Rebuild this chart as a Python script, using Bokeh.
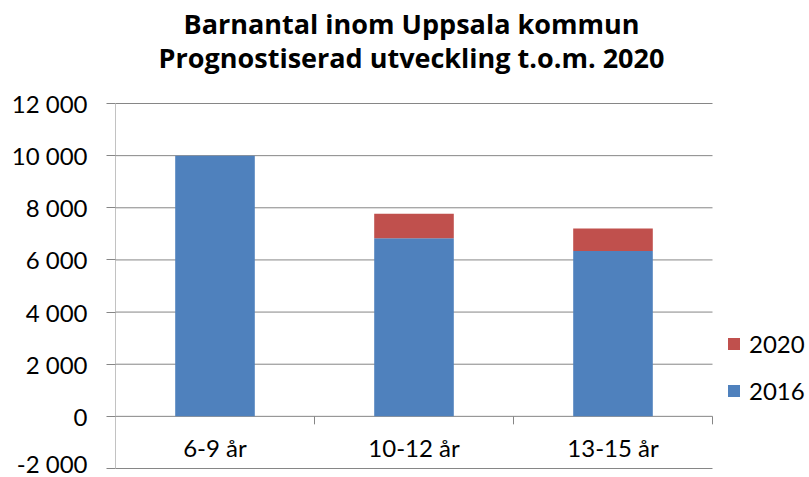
import math
from bokeh.plotting import figure
from bokeh.models import (ColumnDataSource, Range1d, FixedTicker, Legend, LegendItem, Label, LabelSet)
from bokeh.core.properties import value
from bokeh.embed import file_html
from bokeh.resources import INLINE

# ---- data ----
categories = ["6-9 år", "10-12 år", "13-15 år"]
values_2016 = [10000, 6830, 6340]
values_2020_extra = [0, 940, 870]
series_names = ["2016", "2020"]
y_ticks = [-2000, 0, 2000, 4000, 6000, 8000, 10000, 12000]
y_tick_labels = ["-2 000", "0", "2 000", "4 000", "6 000", "8 000", "10 000", "12 000"]
title_lines = ["Barnantal inom Uppsala kommun", "Prognostiserad utveckling t.o.m. 2020"]

# ---- style / layout ----
BLUE = "#4F81BD"
RED = "#C0504D"
GRID = "#868686"
FONT = "Lato"
TITLE_FONT = "Open Sans"

FIG_W, FIG_H = 809, 477
AREA_L, AREA_R = 115, 712        # plot area in pixels
AREA_T, AREA_B = 103, 468
frame_w = FIG_W - AREA_L
n = len(categories)
px_per_cat = (AREA_R - AREA_L) / n
px_per_unit = (AREA_B - AREA_T) / (y_ticks[-1] - y_ticks[0])
x_start = 0.5
x_end = x_start + frame_w / px_per_cat
y_end = y_ticks[-1] + AREA_T / px_per_unit
y_start = y_ticks[0] - (FIG_H - AREA_B) / px_per_unit

positions = [i + 1 for i in range(n)]
boundaries = [i + 1.5 for i in range(n)]
area_x0, area_x1 = 0.5, n + 0.5

source = ColumnDataSource(dict(x=positions, y0=[0] * n, cat=categories,
                               s2016=values_2016, s2020=values_2020_extra))

p = figure(width=FIG_W, height=FIG_H, output_backend="svg", toolbar_location=None,
           x_range=Range1d(x_start, x_end), y_range=Range1d(y_start, y_end),
           x_axis_location=None,
           min_border_left=AREA_L, min_border_right=0, min_border_top=0, min_border_bottom=0)
p.outline_line_color = None
p.background_fill_color = "white"
p.border_fill_color = "white"
p.xgrid.visible = False
p.ygrid.visible = False

# gridlines and value axis line
p.segment(x0=area_x0, x1=area_x1, y0=y_ticks, y1=y_ticks, line_color=GRID, line_width=1)
p.segment(x0=area_x0, x1=area_x0, y0=y_ticks[0], y1=y_ticks[-1], line_color=GRID, line_width=1)

renderers = p.vbar_stack(["s2016", "s2020"], x="x", width=0.4, source=source,
                         color=[BLUE, RED], line_color=None)

# y axis (ticks + labels)
ax = p.yaxis[0]
ax.ticker = FixedTicker(ticks=y_ticks)
ax.major_label_overrides = {t: l for t, l in zip(y_ticks, y_tick_labels)}
ax.axis_line_color = None
ax.major_tick_line_color = GRID
ax.major_tick_in = 0
ax.major_tick_out = 9
ax.minor_tick_line_color = None
ax.major_label_text_font = FONT
ax.major_label_text_font_size = "24px"
ax.major_label_text_color = "black"
ax.major_label_standoff = 19

# category separator ticks on the zero line
p.ray(x=boundaries, y=[0] * n, length=8, length_units="screen",
      angle=-math.pi / 2, line_color=GRID, line_width=1)

# category labels
p.add_layout(LabelSet(x="x", y="y0", text="cat", source=source, y_offset=-41,
                      text_align="center", text_baseline="alphabetic",
                      text_font=value(FONT), text_font_size=value("24px"),
                      text_color=value("black")))

# title
title_cx = 411 - AREA_L
for i, line in enumerate(title_lines):
    p.add_layout(Label(x=title_cx, y=FIG_H - 23 - i * 34, x_units="screen", y_units="screen",
                       text=line, text_align="center", text_baseline="alphabetic",
                       text_font=TITLE_FONT, text_font_style="bold", text_font_size="27px",
                       text_color="black"))

# legend
legend = Legend(items=[LegendItem(label=series_names[1], renderers=[renderers[1]]),
                       LegendItem(label=series_names[0], renderers=[renderers[0]])],
                location=(726 - AREA_L, FIG_H - 405), orientation="vertical",
                glyph_width=15, glyph_height=15, label_standoff=8,
                label_height=24, spacing=18, padding=0, margin=0,
                border_line_color=None, background_fill_alpha=0,
                label_text_font=FONT, label_text_font_size="24px",
                label_text_color="black")
p.add_layout(legend)

open("out.html", "w").write(file_html(p, INLINE))
